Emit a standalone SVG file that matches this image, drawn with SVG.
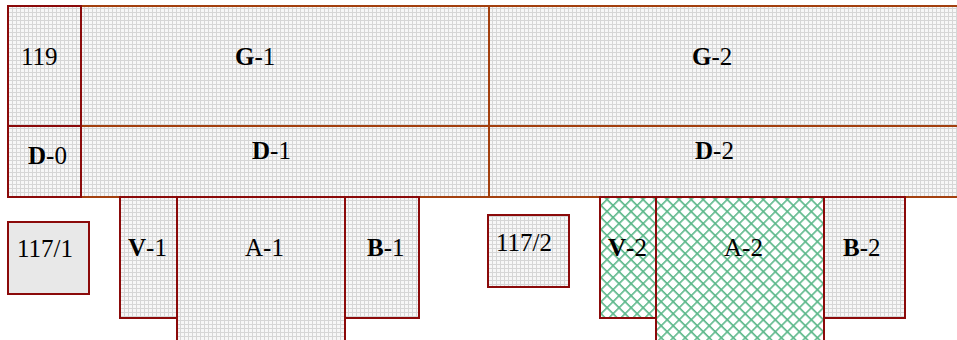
<svg xmlns="http://www.w3.org/2000/svg" width="957" height="340" viewBox="0 0 957 340">
<defs>
<pattern id="grid" width="4" height="4" patternUnits="userSpaceOnUse">
<rect width="4" height="4" fill="#f7f7f7"/>
<path d="M0 0.5H4M0.5 0V4" stroke="#d6d6d6" stroke-width="1"/>
</pattern>
<pattern id="hatch" width="8.5" height="8.5" patternUnits="userSpaceOnUse" patternTransform="rotate(45)">
<rect width="8.5" height="8.5" fill="#ffffff"/>
<path d="M0 0.8H8.5M0.8 0V8.5" stroke="#5cb88a" stroke-width="1.6"/>
</pattern>
<style>
text{font-family:"Liberation Serif","Times New Roman",serif;font-size:25px;fill:#000}
.b{font-weight:bold}
.big{fill:url(#grid);stroke:#a3400f;stroke-width:2}
.n{fill:url(#grid);stroke:#8b0a0a;stroke-width:2}
.s{fill:#e8e8e8;stroke:#8b0a0a;stroke-width:2}
.h{fill:url(#hatch);stroke:#8b0a0a;stroke-width:2}
</style>
</defs>
<g id="G-1"><rect class="big" x="81" y="6" width="408" height="120"/><text x="235" y="65"><tspan class="b">G</tspan>-1</text></g>
<g id="G-2"><rect class="big" x="489" y="6" width="470" height="120"/><text x="692" y="65"><tspan class="b">G</tspan>-2</text></g>
<g id="D-1"><rect class="big" x="81" y="126" width="408" height="71"/><text x="252" y="159"><tspan class="b">D</tspan>-1</text></g>
<g id="D-2"><rect class="big" x="489" y="126" width="470" height="71"/><text x="695" y="159"><tspan class="b">D</tspan>-2</text></g>
<g id="n119"><rect class="n" x="8" y="6" width="73" height="120"/><text x="21" y="65">119</text></g>
<g id="D-0"><rect class="n" x="8" y="126" width="73" height="71"/><text x="28" y="164"><tspan class="b">D</tspan>-0</text></g>
<g id="n117-1"><rect class="s" x="8" y="222" width="81" height="72"/><text x="17" y="257">117/1</text></g>
<g id="V-1"><rect class="n" x="120" y="197" width="57" height="121"/><text x="128" y="256"><tspan class="b">V</tspan>-1</text></g>
<g id="A-1"><rect class="n" x="177" y="197" width="168" height="150"/><text x="245" y="256">A-1</text></g>
<g id="B-1"><rect class="n" x="345" y="197" width="74" height="121"/><text x="367" y="256"><tspan class="b">B</tspan>-1</text></g>
<g id="n117-2"><rect class="n" x="488" y="215" width="81" height="72"/><text x="496" y="251">117/2</text></g>
<g id="V-2"><rect class="h" x="600" y="197" width="56" height="121"/><text x="608" y="256"><tspan class="b">V</tspan>-2</text></g>
<g id="A-2"><rect class="h" x="656" y="197" width="168" height="150"/><text x="724" y="256">A-2</text></g>
<g id="B-2"><rect class="n" x="824" y="197" width="81" height="121"/><text x="843" y="256"><tspan class="b">B</tspan>-2</text></g>
<g id="connectors"></g>
</svg>
